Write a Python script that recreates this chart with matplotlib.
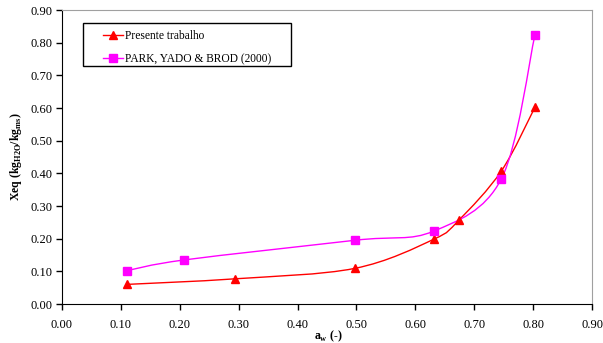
import numpy as np
import matplotlib.pyplot as plt
from matplotlib.path import Path
from matplotlib.patches import PathPatch, Rectangle

# data
aw_red = [0.110, 0.293, 0.497, 0.631, 0.674, 0.746, 0.803]
xeq_red = [0.060, 0.077, 0.109, 0.198, 0.257, 0.407, 0.602]
aw_mag = [0.110, 0.208, 0.497, 0.631, 0.746, 0.803]
xeq_mag = [0.102, 0.135, 0.195, 0.223, 0.383, 0.823]

RED = '#ff0000'
MAG = '#ff00ff'

plt.rcParams['font.family'] = ['Liberation Serif', 'DejaVu Serif']


# Excel-like smoothed line: cubic bezier through points, computed in pixel space
def smooth_line(ax, x, y, color):
    pts = ax.transData.transform(np.column_stack([x, y]))
    n = len(pts)
    verts = [pts[0]]
    codes = [Path.MOVETO]
    for i in range(n - 1):
        p0 = pts[i - 1] if i > 0 else pts[i]
        p1 = pts[i]
        p2 = pts[i + 1]
        p3 = pts[i + 2] if i + 2 < n else pts[i + 1]
        c1 = p1 + (p2 - p0) / 6.0
        c2 = p2 - (p3 - p1) / 6.0
        verts += [c1, c2, p2]
        codes += [Path.CURVE4] * 3
    path = Path(verts, codes)
    patch = PathPatch(path, facecolor='none', edgecolor=color, lw=1.0,
                      transform=None, zorder=2)
    ax.add_artist(patch)


fig = plt.figure(figsize=(6.03, 3.43), dpi=100)
ax = fig.add_axes([0.1028, 0.1137, 0.8790, 0.8571])
ax.set_xlim(0, 0.9)
ax.set_ylim(0, 0.9)
ax.set_xticks(np.arange(0, 0.91, 0.1))
ax.set_yticks(np.arange(0, 0.91, 0.1))
ax.xaxis.set_major_formatter(plt.FormatStrFormatter('%.2f'))
ax.yaxis.set_major_formatter(plt.FormatStrFormatter('%.2f'))
ax.tick_params(axis='both', direction='out', length=4, width=1, labelsize=9,
               colors='black')
ax.tick_params(axis='x', pad=7)
ax.tick_params(axis='y', pad=3)
for s in ['top', 'right']:
    ax.spines[s].set_color('#a0a0a0')
for s in ['left', 'bottom']:
    ax.spines[s].set_color('black')

ax.plot(aw_red, xeq_red, ls='none', marker='^', ms=6, color=RED, zorder=3)
ax.plot(aw_mag, xeq_mag, ls='none', marker='s', ms=5.5, color=MAG, zorder=3)

fig.canvas.draw()
smooth_line(ax, aw_red, xeq_red, RED)
smooth_line(ax, aw_mag, xeq_mag, MAG)

# legend box, drawn separately (Excel style padding)
ax.add_patch(Rectangle((0.0396, 0.810), 0.3924, 0.146, transform=ax.transAxes,
                       facecolor='white', edgecolor='black', lw=1.0, zorder=4))
h1, = ax.plot([], [], color=RED, marker='^', ms=6, lw=1)
h2, = ax.plot([], [], color=MAG, marker='s', ms=5.5, lw=1)
leg = ax.legend([h1, h2], ['Presente trabalho', 'PARK, YADO & BROD (2000)'],
                loc='upper left', bbox_to_anchor=(0.0774, 0.932), fontsize=8.3,
                frameon=False, handlelength=1.7, handletextpad=0.2,
                borderpad=0, borderaxespad=0, labelspacing=0.95)
leg.set_zorder(5)

ax.set_xlabel('a$_\\mathregular{w}$ (-)', fontsize=8.5, fontweight='bold')
ax.xaxis.set_label_coords(0.502, -0.084)
ax.set_ylabel('Xeq (kg$_\\mathregular{H2O}$/kg$_\\mathregular{ms}$)', fontsize=8.5,
              fontweight='bold')
ax.yaxis.set_label_coords(-0.072, 0.5)

fig.savefig('out.png', dpi=100)
